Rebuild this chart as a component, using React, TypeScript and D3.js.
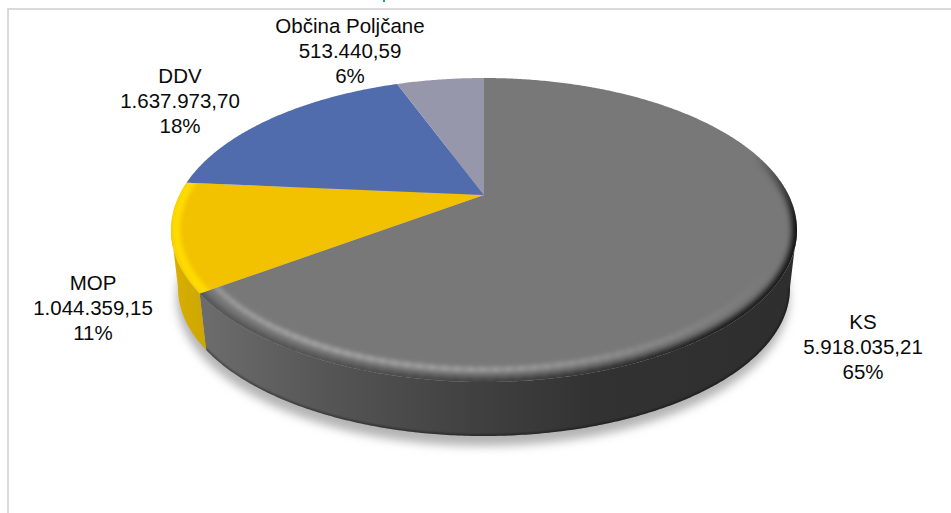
import React from "react";
import * as d3 from "d3";

// Revenue sources of the municipal budget
const categories = ["KS", "MOP", "DDV", "Občina Poljčane"];
const amounts = [5918035.21, 1044359.15, 1637973.7, 513440.59];
const faceColors = ["#787878", "#f2c100", "#506cad", "#9697aa"];

// Label block centre and first baseline, one per category
const labelX = [863, 93, 180, 350];
const labelY = [329, 290, 83, 33];

const WIDTH = 951;
const HEIGHT = 513;
const deg = Math.PI / 180;

// Tilted disc: perspective factor moves the apex above the centre of the ellipse
const PERSPECTIVE = 0.23;
const topDisc = { cx: 484, cy: 230, rx: 313, ry: 152 };
const baseDisc = { cx: 484, cy: 288, rx: 306, ry: 148 };
type Disc = typeof topDisc;

const project = (disc: Disc, angle: number, r = 1): [number, number] => {
  const k = PERSPECTIVE;
  const u = r * Math.sin(angle);
  const v = -r * Math.cos(angle);
  const w = 1 - k * v;
  return [
    disc.cx + (disc.rx * Math.sqrt(1 - k * k) * u) / w,
    disc.cy + (disc.ry * (v - k)) / w,
  ];
};

const samples = (from: number, to: number) => {
  const n = Math.max(2, Math.ceil(Math.abs(to - from) / (0.5 * deg)));
  return d3.range(n + 1).map((i) => from + ((to - from) * i) / n);
};

const line = d3.line<[number, number]>();
const rimPath = (disc: Disc, from: number, to: number, r = 1) =>
  line(samples(from, to).map((a) => project(disc, a, r))) as string;

const pieLayout = d3.pie<number>().sort(null).value((d) => d);
const slices = pieLayout(amounts);
const total = d3.sum(amounts);

const slovene = d3.formatLocale({
  decimal: ",",
  thousands: ".",
  grouping: [3],
  currency: ["", " €"],
});
const formatAmount = slovene.format(",.2f");
const formatShare = d3.format(".0%");

// The side wall is visible only between the two horizontal extremes of the rim
const wallStart = 103 * deg;
const wallEnd = 257 * deg;

const facePath = (from: number, to: number) =>
  `M${topDisc.cx},${topDisc.cy - PERSPECTIVE * topDisc.ry}L` +
  rimPath(topDisc, from, to).slice(1) +
  "Z";

const wallPath = (from: number, to: number) =>
  rimPath(topDisc, from, to) +
  "L" +
  rimPath(baseDisc, to, from).slice(1) +
  "Z";

const wallSpans = slices
  .map((s, i) => ({
    i,
    from: Math.max(s.startAngle, wallStart),
    to: Math.min(s.endAngle, wallEnd),
  }))
  .filter((s) => s.to > s.from);

const shadowPath = rimPath(baseDisc, 0, 2 * Math.PI) + "Z";

// Bevel strength varies around the rim, so the stroke is laid in short pieces
const rimShadeStrength = d3
  .scaleLinear()
  .domain([72, 100, 140, 175, 205, 236].map((d) => d * deg))
  .range([0, 0.95, 0.85, 0.5, 0.32, 0.28])
  .clamp(true);
const rimGlowStrength = d3
  .scaleLinear()
  .domain([120, 150, 180, 210, 236].map((d) => d * deg))
  .range([0, 0.1, 0.24, 0.3, 0.22])
  .clamp(true);

const strokePieces = (from: number, to: number, r: number, strength: (a: number) => number) => {
  const step = 2 * deg;
  const starts = d3.range(from, to, step);
  return starts.map((a) => ({
    d: rimPath(topDisc, a, Math.min(a + step * 1.15, to), r),
    opacity: strength(a + step / 2),
  }));
};

export default function App() {
  const ksEnd = slices[0].endAngle;
  const [mopStart, mopEnd] = [slices[1].startAngle, slices[1].endAngle];
  return (
    <svg
      width={WIDTH}
      height={HEIGHT}
      viewBox={`0 0 ${WIDTH} ${HEIGHT}`}
      style={{ position: "absolute", left: 0, top: 0, background: "#fff" }}
    >
      <defs>
        {[1.2, 2.2, 3, 5].map((s) => (
          <filter
            key={s}
            id={`blur${String(s).replace(".", "_")}`}
            filterUnits="userSpaceOnUse"
            x={0}
            y={0}
            width={WIDTH}
            height={HEIGHT}
          >
            <feGaussianBlur stdDeviation={s} />
          </filter>
        ))}
        <linearGradient id="wallGrey" gradientUnits="userSpaceOnUse" x1={205} x2={797} y1={0} y2={0}>
          <stop offset={0} stopColor="#6c6c6c" />
          <stop offset={0.2} stopColor="#565656" />
          <stop offset={0.42} stopColor="#434343" />
          <stop offset={0.66} stopColor="#323232" />
          <stop offset={1} stopColor="#2e2e2e" />
        </linearGradient>
        <linearGradient id="wallYellow" gradientUnits="userSpaceOnUse" x1={171} x2={212} y1={0} y2={0}>
          <stop offset={0} stopColor="#d9af00" />
          <stop offset={1} stopColor="#cba500" />
        </linearGradient>
        {slices.map((s, i) => (
          <clipPath id={`face${i}`} key={i}>
            <path d={facePath(s.startAngle, s.endAngle)} />
          </clipPath>
        ))}
        {wallSpans.map((s) => (
          <clipPath id={`wall${s.i}`} key={s.i}>
            <path d={wallPath(s.from, s.to)} />
          </clipPath>
        ))}
      </defs>

      {/* Frame: only the top and left edges fall inside the canvas */}
      <rect x={8} y={8} width={WIDTH} height={2} fill="#d9d9d9" />
      <rect x={7} y={8} width={2} height={HEIGHT - 8} fill="#d9d9d9" />
      {/* Tail of the title, cut off by the canvas edge */}
      <rect x={383} y={0} width={2} height={2} fill="#17b060" />

      {/* Soft shadow under the disc */}
      <path
        d={shadowPath}
        fill="#b4b4b4"
        filter="url(#blur5)"
        transform="translate(-1,10)"
      />

      {/* Side wall */}
      {wallSpans.map((s) => (
        <g key={s.i}>
          <path
            d={wallPath(s.from, s.to)}
            fill={s.i === 0 ? "url(#wallGrey)" : "url(#wallYellow)"}
          />
          {s.i === 0 && (
            <g clipPath={`url(#wall${s.i})`}>
              <path
                d={rimPath(baseDisc, s.from, s.to)}
                fill="none"
                stroke="#000"
                strokeOpacity={0.4}
                strokeWidth={3}
                filter="url(#blur1_2)"
              />
            </g>
          )}
        </g>
      ))}

      {/* Top face, slice by slice */}
      {slices.map((s, i) => (
        <path key={i} d={facePath(s.startAngle, s.endAngle)} fill={faceColors[i]} />
      ))}

      {/* Bevel on the grey slice */}
      <g clipPath="url(#face0)">
        <g filter="url(#blur3)">
          {strokePieces(70 * deg, ksEnd + 2 * deg, 1, rimShadeStrength).map((p, i) => (
            <path key={i} d={p.d} fill="none" stroke="#000" strokeOpacity={p.opacity} strokeWidth={9} />
          ))}
        </g>
        <g filter="url(#blur2_2)">
          {strokePieces(118 * deg, ksEnd + 2 * deg, 0.948, rimGlowStrength).map((p, i) => (
            <path key={i} d={p.d} fill="none" stroke="#fff" strokeOpacity={p.opacity} strokeWidth={5} />
          ))}
        </g>
      </g>

      {/* Bevel on the yellow slice */}
      <g clipPath="url(#face1)">
        <path
          d={rimPath(topDisc, mopStart - 2 * deg, mopEnd + 2 * deg, 0.985)}
          fill="none"
          stroke="#ffdc00"
          strokeWidth={9}
          filter="url(#blur2_2)"
        />
      </g>

      {/* Data labels */}
      <g
        fontFamily="'Liberation Sans', Arial, sans-serif"
        fontSize={20.5}
        fill="#0a0a0a"
        textAnchor="middle"
      >
        {categories.map((name, i) => (
          <text key={name} x={labelX[i]} y={labelY[i]}>
            <tspan x={labelX[i]}>{name}</tspan>
            <tspan x={labelX[i]} dy={25}>
              {formatAmount(amounts[i])}
            </tspan>
            <tspan x={labelX[i]} dy={25}>
              {formatShare(amounts[i] / total)}
            </tspan>
          </text>
        ))}
      </g>
    </svg>
  );
}
